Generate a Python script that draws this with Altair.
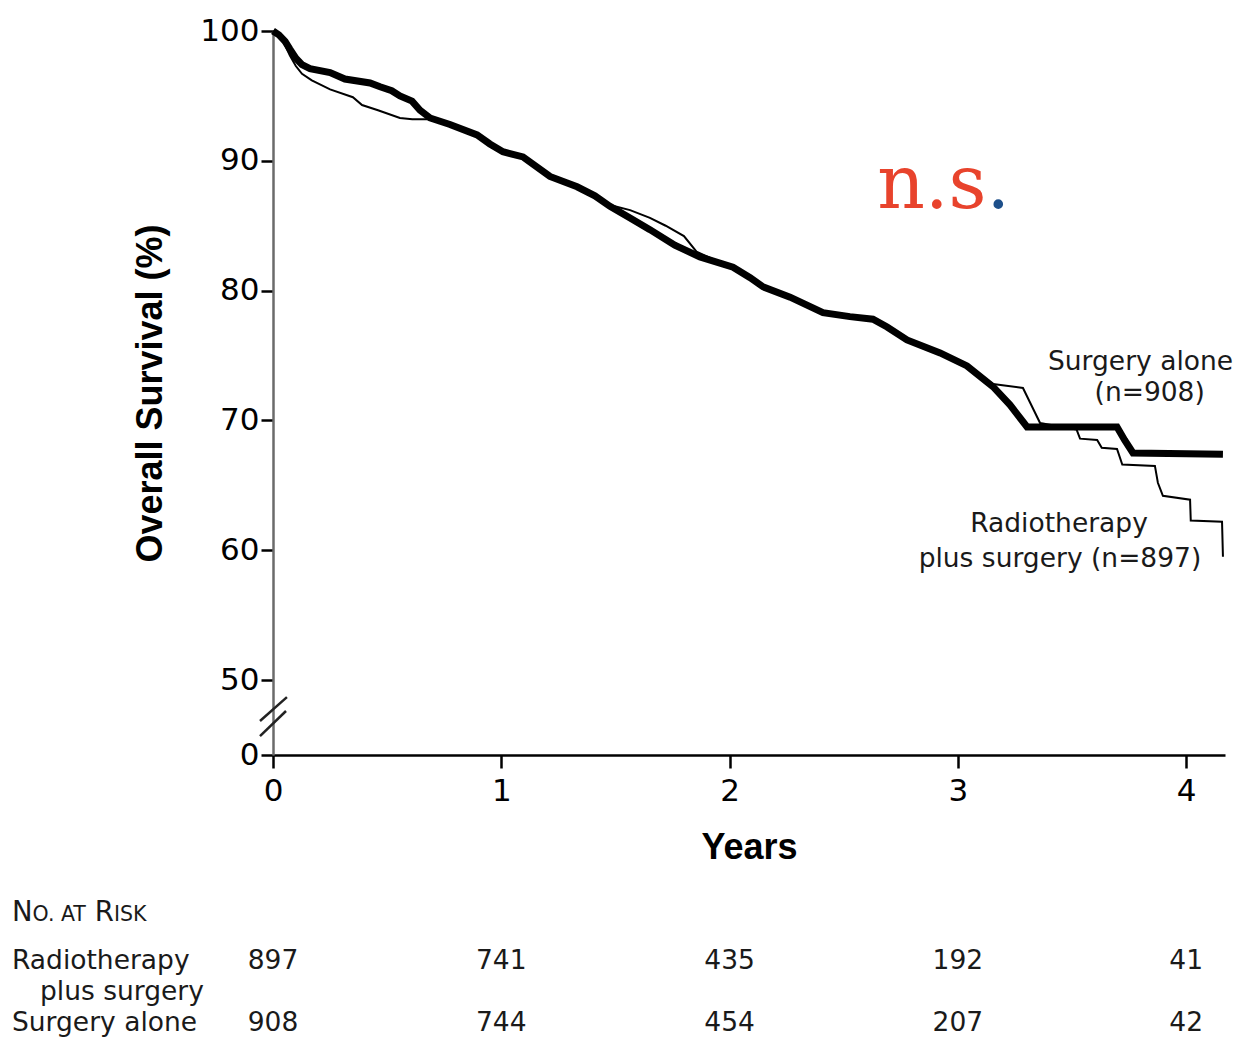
import altair as alt
import pandas as pd

# ---------------- data ----------------
surgery_years = [0.00, 0.026, 0.053, 0.074, 0.10, 0.127, 0.162, 0.25, 0.315, 0.425,
                 0.469, 0.52, 0.556, 0.609, 0.644, 0.688, 0.775, 0.894, 0.95, 1.007,
                 1.095, 1.213, 1.332, 1.41, 1.476, 1.564, 1.651, 1.76, 1.87, 2.015,
                 2.09, 2.146, 2.265, 2.409, 2.527, 2.628, 2.69, 2.777, 2.922, 3.04,
                 3.154, 3.228, 3.303, 3.697, 3.73, 3.767, 4.161]
surgery_surv = [100.0, 99.7, 99.2, 98.6, 97.9, 97.4, 97.1, 96.8, 96.3, 96.0,
                95.7, 95.4, 95.0, 94.6, 93.9, 93.3, 92.8, 92.0, 91.3, 90.7,
                90.3, 88.8, 88.0, 87.3, 86.5, 85.6, 84.7, 83.5, 82.6, 81.8,
                81.0, 80.3, 79.5, 78.3, 78.0, 77.8, 77.2, 76.2, 75.2, 74.2,
                72.6, 71.2, 69.5, 69.5, 68.5, 67.5, 67.4]

radio_years = [0.00, 0.026, 0.053, 0.074, 0.10, 0.127, 0.17, 0.25, 0.35, 0.39,
               0.46, 0.556, 0.61, 0.688, 0.775, 0.894, 0.95, 1.007, 1.095, 1.213,
               1.332, 1.41, 1.476, 1.564, 1.651, 1.72, 1.80, 1.855, 1.93, 2.015,
               2.09, 2.146, 2.265, 2.409, 2.527, 2.628, 2.69, 2.777, 2.922, 3.04,
               3.154, 3.285, 3.36, 3.52, 3.535, 3.61, 3.63, 3.697, 3.72, 3.863,
               3.876, 3.898, 4.017, 4.02, 4.157, 4.161]
radio_surv = [100.0, 99.6, 98.9, 98.1, 97.3, 96.7, 96.2, 95.5, 94.9, 94.3,
              93.9, 93.3, 93.2, 93.2, 92.7, 91.9, 91.2, 90.6, 90.2, 88.8,
              88.0, 87.4, 86.6, 86.2, 85.6, 85.0, 84.2, 83.0, 82.4, 81.8,
              81.0, 80.3, 79.5, 78.3, 78.0, 77.8, 77.2, 76.2, 75.2, 74.2,
              72.8, 72.5, 69.8, 69.3, 68.6, 68.5, 67.9, 67.8, 66.6, 66.5,
              65.2, 64.2, 63.9, 62.3, 62.2, 59.5]

tick_years = [0, 1, 2, 3, 4]
y_ticks = [50, 60, 70, 80, 90, 100]
at_risk_radio = [897, 741, 435, 192, 41]
at_risk_surgery = [908, 744, 454, 207, 42]

# broken axis: the "0" tick sits a short distance under 50
ZERO_POS = 50 - 75 / 13

FONT = "DejaVu Sans"
INK = "#1a1a1a"
TXT = 26.5

# ---------------- scales / axes ----------------
xscale = alt.Scale(domain=[0, 4.17], nice=False, zero=False)
yscale = alt.Scale(domain=[ZERO_POS, 100], nice=False, zero=False)

xaxis = alt.Axis(values=tick_years, format="d", title="Years", grid=False,
                 tickSize=13, tickWidth=2.5, tickColor="black",
                 domainColor="black", domainWidth=2.5,
                 labelFont=FONT, labelFontSize=31, labelColor="black",
                 labelPadding=8, labelFlush=False,
                 titleFont="Liberation Sans", titleFontSize=36, titleFontWeight="bold",
                 titleColor="black", titlePadding=24)
yaxis = alt.Axis(values=[ZERO_POS] + y_ticks,
                 labelExpr="datum.value < 49 ? '0' : format(datum.value, 'd')",
                 title="Overall Survival (%)", grid=False,
                 tickSize=12, tickWidth=2.5, tickColor="black",
                 domainColor="#6b6b6b", domainWidth=2.5,
                 labelFont=FONT, labelFontSize=31, labelColor="black",
                 labelPadding=2, labelFlush=False, labelOverlap=False,
                 titleFont="Liberation Sans", titleFontSize=36, titleFontWeight="bold",
                 titleColor="black", titlePadding=30)

X = alt.X("t:Q", scale=xscale, axis=xaxis)
Y = alt.Y("s:Q", scale=yscale, axis=yaxis)

# ---------------- curves ----------------
surg_df = pd.DataFrame({"t": surgery_years, "s": surgery_surv,
                        "i": range(len(surgery_years))})
radio_df = pd.DataFrame({"t": radio_years, "s": radio_surv,
                         "i": range(len(radio_years))})

thin = alt.Chart(radio_df).mark_line(color="black", strokeWidth=2).encode(
    x=X, y=Y, order="i:Q")
thick = alt.Chart(surg_df).mark_line(color="black", strokeWidth=7).encode(
    x=X, y=Y, order="i:Q")

# axis-break slashes
brk_df = pd.DataFrame({"t": [-0.057, -0.057], "t2": [0.061, 0.057],
                       "s": [46.85, 45.69], "s2": [48.69, 47.62]})
breaks = alt.Chart(brk_df).mark_rule(color="#222", strokeWidth=2.5).encode(
    x=X, x2="t2:Q", y=Y, y2="s2:Q")

# curve labels
anno_df = pd.DataFrame({
    "t": [3.80, 3.84, 3.443, 3.447],
    "s": [74.54, 72.15, 62.0, 59.31],
    "text": ["Surgery alone", "(n=908)", "Radiotherapy", "plus surgery (n=897)"],
})
annos = alt.Chart(anno_df).mark_text(font=FONT, fontSize=TXT, color=INK,
                                     align="center", baseline="middle").encode(
    x=X, y=Y, text="text:N")

ns_df = pd.DataFrame({"t": [3.125], "s": [86.4], "a": ["n.s"], "b": ["."]})
ns_red = alt.Chart(ns_df).mark_text(font="DejaVu Serif", fontSize=74, color="#e8432c",
                                    align="right", baseline="alphabetic").encode(
    x=X, y=Y, text="a:N")
ns_dot = alt.Chart(ns_df).mark_text(font="DejaVu Serif", fontSize=74, color="#1d4f8a",
                                    align="left", baseline="alphabetic").encode(
    x=X, y=Y, text="b:N")

main = alt.layer(thin, thick, breaks, annos, ns_red, ns_dot)

# ---------------- number at risk table ----------------
Y_ROW = alt.Y("line:Q", axis=None,
              scale=alt.Scale(domain=[0, 1, 2, 3], range=[890, 938, 969, 1000],
                              nice=False, zero=False))

risk_df = pd.DataFrame({
    "t": tick_years + tick_years,
    "line": [1] * 5 + [3] * 5,
    "n": [str(v) for v in at_risk_radio + at_risk_surgery],
})
nums = alt.Chart(risk_df).mark_text(font=FONT, fontSize=TXT, color=INK,
                                    align="center", baseline="alphabetic").encode(
    x=X, y=Y_ROW, text="n:N")

lab_df = pd.DataFrame({"line": [1, 3], "text": ["Radiotherapy", "Surgery alone"]})
labels = alt.Chart(lab_df).mark_text(font=FONT, fontSize=TXT, color=INK,
                                     align="left", baseline="alphabetic").encode(
    x=alt.value(-261), y=Y_ROW, text="text:N")
lab2_df = pd.DataFrame({"line": [2], "text": ["plus surgery"]})
labels2 = alt.Chart(lab2_df).mark_text(font=FONT, fontSize=TXT, color=INK, dx=28,
                                       align="left", baseline="alphabetic").encode(
    x=alt.value(-261), y=Y_ROW, text="text:N")

# "No. at Risk" in small caps
header_parts = [("N", 27.5, 0), ("O. AT", 20.5, 20.6), ("R", 27.5, 82.8), ("ISK", 20.5, 101.9)]
header_layers = []
for txt, fs, off in header_parts:
    hdf = pd.DataFrame({"line": [0], "text": [txt]})
    header_layers.append(
        alt.Chart(hdf).mark_text(font=FONT, fontSize=fs, color=INK, dx=off,
                                 align="left", baseline="alphabetic").encode(
            x=alt.value(-261), y=Y_ROW, text="text:N"))

table = alt.layer(nums, labels, labels2, *header_layers)

chart = alt.layer(main, table).resolve_scale(y="independent").properties(
    width=952, height=724,
    autosize=alt.AutoSizeParams(type="none"),
    padding={"left": 265, "top": 23, "right": 12, "bottom": 283},
    background="white",
).configure_view(stroke=None)

chart.save("out.html", embed_options={"renderer": "svg", "actions": False})
